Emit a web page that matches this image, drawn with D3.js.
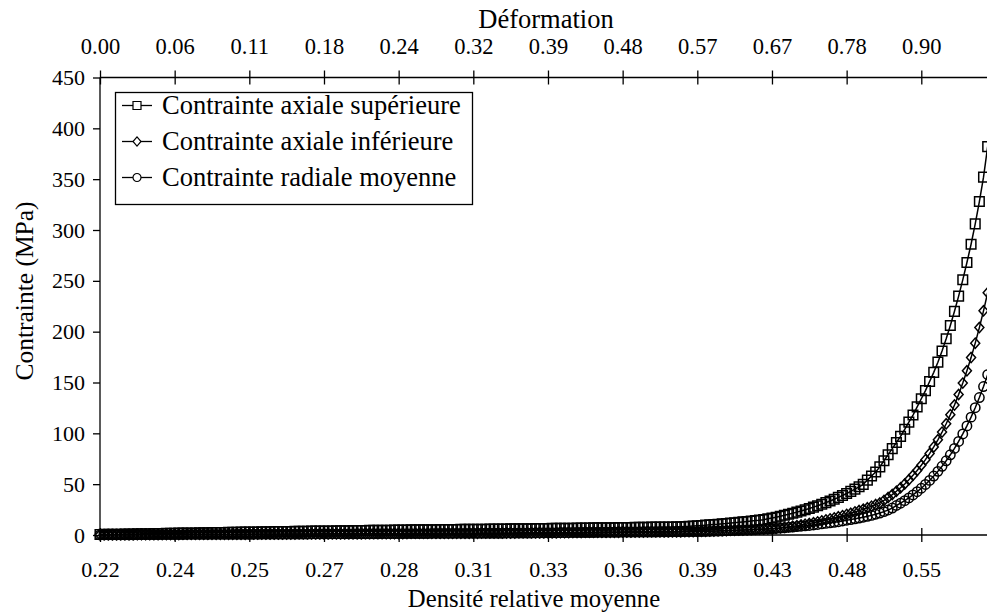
<!DOCTYPE html>
<html><head><meta charset="utf-8">
<script src="https://cdn.jsdelivr.net/npm/d3@7"></script>
<style>
body{margin:0;background:#fff}
</style>
</head><body>
<svg id="chart" width="987" height="616"></svg>
<script>
// ---------------- DATA ----------------
const densityLabels = ["0.22","0.24","0.25","0.27","0.28","0.31","0.33","0.36","0.39","0.43","0.48","0.55"];
const strainLabels  = ["0.00","0.06","0.11","0.18","0.24","0.32","0.39","0.48","0.57","0.67","0.78","0.90"];
const seriesNames = ["Contrainte axiale supérieure","Contrainte axiale inférieure","Contrainte radiale moyenne"];
const yTicks = [0,50,100,150,200,250,300,350,400,450];

const axialSup = [
0.5,0.6,0.6,0.7,0.8,0.8,0.9,1.0,1.0,1.1,1.2,1.2,1.3,1.4,1.4,1.5,1.6,1.6,1.7,1.8,1.8,1.9,2.0,2.0,2.1,
2.2,2.2,2.3,2.4,2.4,2.5,2.6,2.6,2.7,2.8,2.8,2.9,3.0,3.0,3.1,3.2,3.2,3.3,3.4,3.4,3.5,3.5,3.6,3.6,3.7,
3.7,3.8,3.8,3.9,3.9,4.0,4.0,4.1,4.1,4.2,4.2,4.3,4.3,4.4,4.4,4.5,4.5,4.6,4.6,4.7,4.7,4.8,4.8,4.9,4.9,
5.0,5.0,5.1,5.1,5.2,5.2,5.2,5.3,5.3,5.4,5.4,5.4,5.5,5.5,5.6,5.6,5.6,5.7,5.7,5.8,5.8,5.8,5.9,5.9,6.0,
6.0,6.1,6.1,6.2,6.2,6.3,6.3,6.4,6.4,6.5,6.5,6.6,6.6,6.7,6.7,6.8,6.8,6.9,6.9,7.0,
7.0,7.1,7.1,7.2,7.2,7.3,7.3,7.4,7.4,7.5,7.5,7.6,7.6,7.7,7.7,7.8,7.8,7.9,7.9,8.0,
8.1,8.3,8.5,8.8,9.1,9.4,9.7,10.0,10.3,10.6,11.0,11.3,11.7,12.1,12.5,12.9,13.3,13.7,14.2,14.6,
15.1,15.9,16.7,17.5,18.4,19.4,20.4,21.4,22.5,23.6,24.8,26.1,27.4,28.8,30.3,31.8,33.5,35.2,37.0,38.9,40.8,42.9,45.1,47.4,49.8,
54,58,62,67,73,79,85,91,97,104,111,118,126,134,142,151,160,170,181,193,206,220,235,251,268,286,306,328,352,382
];
const axialInf = [
0.2,0.2,0.2,0.3,0.3,0.3,0.3,0.3,0.3,0.4,0.4,0.4,0.4,0.4,0.5,0.5,0.5,0.5,0.5,0.5,0.6,0.6,0.6,0.6,0.6,
0.7,0.7,0.7,0.7,0.7,0.7,0.8,0.8,0.8,0.8,0.8,0.8,0.9,0.9,0.9,0.9,0.9,1.0,1.0,1.0,1.0,1.0,1.0,1.1,1.1,
1.1,1.1,1.1,1.2,1.2,1.2,1.2,1.2,1.2,1.3,1.3,1.3,1.3,1.3,1.4,1.4,1.4,1.4,1.4,1.4,1.5,1.5,1.5,1.5,1.5,
1.6,1.6,1.6,1.6,1.6,1.6,1.7,1.7,1.7,1.7,1.7,1.7,1.8,1.8,1.8,1.8,1.8,1.9,1.9,1.9,1.9,1.9,1.9,2.0,2.0,
2.0,2.1,2.1,2.1,2.1,2.2,2.2,2.2,2.3,2.3,2.3,2.4,2.4,2.4,2.5,2.5,2.5,2.6,2.6,2.6,
2.7,2.7,2.7,2.8,2.8,2.8,2.9,2.9,2.9,3.0,3.0,3.0,3.1,3.1,3.1,3.2,3.2,3.2,3.3,3.3,
3.3,3.4,3.4,3.4,3.5,
3.6,3.7,3.9,4.0,4.1,4.3,4.4,4.6,4.7,4.9,5.0,5.2,5.4,5.6,5.8,6.0,6.2,6.4,6.6,
7.0,7.5,8.0,8.6,9.2,9.9,10.6,11.3,12.1,12.9,13.8,14.8,15.8,16.8,17.9,19.0,20.2,21.4,22.7,24.0,25.4,26.8,28.3,29.9,
31.5,34.0,36.8,39.8,43.0,46.5,50.2,54.3,58.7,63.4,68.6,74.1,80.1,86.6,93.6,101.2,109.4,118.3,127.8,138.2,149.4,161.5,174.5,188.7,204.0,220.5,238.3
];
const radialMoy = [
0.1,0.1,0.1,0.2,0.2,0.2,0.2,0.2,0.2,0.3,0.3,0.3,0.3,0.3,0.3,0.4,0.4,0.4,0.4,0.4,0.4,0.5,0.5,0.5,0.5,
0.5,0.5,0.6,0.6,0.6,0.6,0.6,0.6,0.7,0.7,0.7,0.7,0.7,0.7,0.8,0.8,0.8,0.8,0.8,0.8,0.9,0.9,0.9,0.9,0.9,
0.9,1.0,1.0,1.0,1.0,1.0,1.1,1.1,1.1,1.1,1.1,1.1,1.2,1.2,1.2,1.2,1.2,1.2,1.3,1.3,1.3,1.3,1.3,1.3,1.4,
1.4,1.4,1.4,1.4,1.4,1.5,1.5,1.5,1.5,1.5,1.5,1.6,1.6,1.6,1.6,1.6,1.6,1.7,1.7,1.7,1.7,1.7,1.7,1.8,1.8,
1.8,1.9,1.9,1.9,1.9,2.0,2.0,2.0,2.1,2.1,2.1,2.2,2.2,2.2,2.3,2.3,2.3,2.4,2.4,2.4,
2.5,2.5,2.5,2.6,2.6,2.6,2.7,2.7,2.7,2.8,2.8,2.8,2.9,2.9,2.9,3.0,3.0,3.0,3.1,3.1,
3.1,3.2,3.2,3.2,3.3,
3.4,3.5,3.6,3.8,3.9,4.0,4.2,4.3,4.5,4.6,4.8,4.9,5.1,5.3,5.5,5.7,5.9,6.1,6.4,
6.8,7.1,7.5,7.8,8.2,8.6,9.0,9.4,9.9,10.4,10.9,11.4,11.9,12.5,13.1,13.8,14.5,
15.2,15.9,16.7,17.5,18.4,19.3,20.4,21.6,23.0,24.6,26.5,
29.0,31.3,33.8,36.5,39.4,42.6,46.0,49.7,53.7,58.0,62.6,67.6,73.0,78.9,85.2,92.0,99.4,107.3,115.9,125.2,135.2,146.0,157.7
];

// ---------------- LAYOUT ----------------
const FONT = "'Liberation Serif', 'Times New Roman', Times, serif";
const svg = d3.select("#chart").attr("font-family", FONT);
const tickStep = 18;              // one labelled tick every 18 points
const N = axialSup.length;
const x = d3.scaleLinear().domain([0, N - 1]).range([100, 100 + (N - 1) * (821.3 / 198)]);
const y = d3.scaleLinear().domain([0, 450]).range([535, 77.5]);
const tickIdx = densityLabels.map((d, i) => i * tickStep);

svg.append("defs").append("clipPath").attr("id","pc")
  .append("rect").attr("x",90).attr("y",60).attr("width",897).attr("height",490);

const g = svg.append("g");
function styleText(sel, size){ sel.style("font-family", FONT).style("font-size", size).attr("fill","#000"); }

// y axis
const yAxis = g.append("g").attr("transform","translate(100,0)")
  .call(d3.axisLeft(y).tickValues(yTicks).tickSize(7).tickPadding(8).tickFormat(d3.format("d")));
styleText(yAxis.selectAll("text"), "22px");

// bottom axis (crossing ticks)
const bAxis = g.append("g").attr("transform","translate(0,535)")
  .call(d3.axisBottom(x).tickValues(tickIdx).tickSize(7).tickFormat((d,i)=>densityLabels[i]));
bAxis.selectAll(".tick line").attr("y1",-7).attr("y2",7);
bAxis.selectAll(".tick text").attr("y",42).attr("dy",0);
styleText(bAxis.selectAll("text"), "22px");

// top axis (crossing ticks)
const tAxis = g.append("g").attr("transform","translate(0,77.5)")
  .call(d3.axisTop(x).tickValues(tickIdx).tickSize(7).tickFormat((d,i)=>strainLabels[i]));
tAxis.selectAll(".tick line").attr("y1",-7).attr("y2",7);
tAxis.selectAll(".tick text").attr("y",-24).attr("dy",0);
styleText(tAxis.selectAll("text"), "22.5px");

[yAxis,bAxis,tAxis].forEach(a=>{
  a.attr("font-family", FONT);
  a.selectAll(".domain").attr("stroke","#000").attr("stroke-width",1.3);
  a.selectAll(".tick line").attr("stroke","#000").attr("stroke-width",1.3);
});
yAxis.select(".domain").attr("d","M0,77.5V535");
bAxis.select(".domain").attr("d","M100,0H987");
tAxis.select(".domain").attr("d","M100,0H987");

// titles
styleText(svg.append("text").attr("x",546).attr("y",28).attr("text-anchor","middle").text("Déformation"), "26.5px");
styleText(svg.append("text").attr("x",534).attr("y",607).attr("text-anchor","middle").text("Densité relative moyenne"), "24.7px");
styleText(svg.append("text").attr("transform","translate(33,291) rotate(-90)").attr("text-anchor","middle").text("Contrainte (MPa)"), "25.5px");

// ---------------- SERIES ----------------
const line = d3.line().x((d,i)=>x(i)).y(d=>y(d));
const series = [axialSup, axialInf, radialMoy];
const symbols = [
  (s)=>`M${-s},${-s}H${s}V${s}H${-s}Z`,
  (s)=>`M0,${-s-0.6}L${s},0L0,${s+0.6}L${-s},0Z`,
  (s)=>`M${s},0A${s},${s} 0 1,1 ${-s},0A${s},${s} 0 1,1 ${s},0Z`
];
const symSize = [4.8, 4.5, 4.7];
const plot = svg.append("g").attr("clip-path","url(#pc)");
series.forEach((data, k)=>{
  const sg = plot.append("g");
  sg.append("path").attr("d", line(data)).attr("fill","none").attr("stroke","#000").attr("stroke-width",1.5);
  sg.selectAll("path.m").data(data).join("path").attr("class","m")
    .attr("transform",(d,i)=>`translate(${x(i)},${y(d)})`)
    .attr("d", symbols[k](symSize[k]))
    .attr("fill","none").attr("stroke","#000").attr("stroke-width",1.5);
});

// ---------------- LEGEND ----------------
const lg = svg.append("g");
lg.append("rect").attr("x",115.5).attr("y",92.5).attr("width",357).attr("height",112)
  .attr("fill","#fff").attr("stroke","#000").attr("stroke-width",1.3);
seriesNames.forEach((name,k)=>{
  const cy = 105.5 + k*36;
  lg.append("line").attr("x1",122).attr("x2",152).attr("y1",cy).attr("y2",cy)
    .attr("stroke","#000").attr("stroke-width",1.3);
  lg.append("path").attr("transform",`translate(137,${cy})`).attr("d",symbols[k](4))
    .attr("fill","#fff").attr("stroke","#000").attr("stroke-width",1.2);
  styleText(lg.append("text").attr("x",162).attr("y",cy+8.5).text(name), "26.5px");
});
</script>
</body></html>
